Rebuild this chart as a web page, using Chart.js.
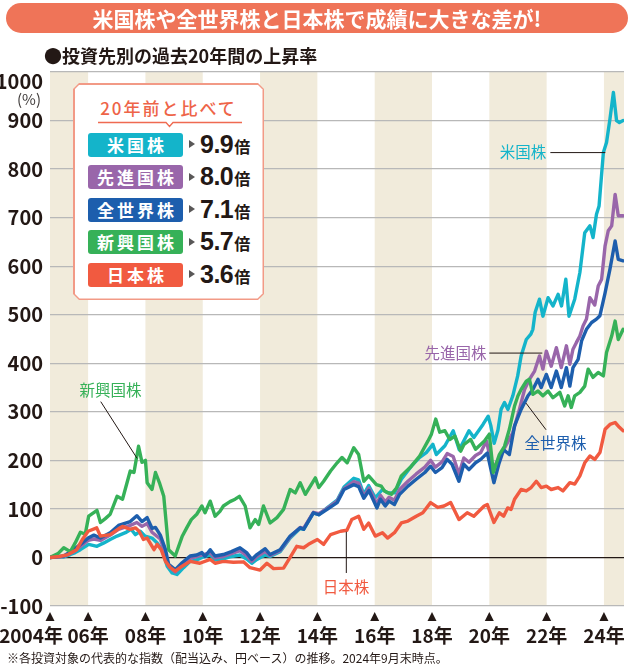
<!doctype html>
<html>
<head>
<meta charset="utf-8">
<title>投資先別の過去20年間の上昇率</title>
<script src="https://cdn.jsdelivr.net/npm/chart.js"></script>
<style>
  body { margin: 0; background: #fff; }
  #wrap { position: relative; width: 631px; height: 667px; overflow: hidden; font-family: "Noto Sans CJK JP", sans-serif; color: #231815; }
  #chart { position: absolute; left: 0; top: 0; }
  #title { position: absolute; left: 6px; top: 3px; width: 622px; height: 30px; border-radius: 15px; background: #ef7458; color: #fff; font-weight: bold; font-size: 21px; line-height: 30px; text-align: center; }
  #subtitle { position: absolute; left: 44px; top: 44px; font-size: 18px; font-weight: bold; line-height: 22px; white-space: nowrap; }
  #note { position: absolute; left: 7px; top: 650px; font-size: 12px; line-height: 16px; white-space: nowrap; }
  #legendBox { position: absolute; left: 73px; top: 83px; width: 191px; height: 217px; background: #f29a86;
    clip-path: polygon(6px 0, calc(100% - 6px) 0, 100% 6px, 100% calc(100% - 6px), calc(100% - 6px) 100%, 6px 100%, 0 calc(100% - 6px), 0 6px); }
  #legendBox .inner { position: absolute; left: 1.5px; top: 1.5px; right: 1.5px; bottom: 1.5px; background: #fff;
    clip-path: polygon(5px 0, calc(100% - 5px) 0, 100% 5px, 100% calc(100% - 5px), calc(100% - 5px) 100%, 5px 100%, 0 calc(100% - 5px), 0 5px); }
  #legendBox .head { position: absolute; left: 0; width: 100%; top: 13px; text-align: center; font-size: 17px; font-weight: 500; letter-spacing: 2px; line-height: 20px; color: #ee6448; }
  #legendBox svg { position: absolute; left: 23px; top: 36px; }
  .row { position: absolute; left: 13.5px; height: 24px; width: 170px; }
  .tag { position: absolute; left: 0; top: 0; width: 95px; height: 24px; border-radius: 3px; color: #fff; font-weight: bold; font-size: 17px; line-height: 24px; letter-spacing: 3px; text-align: center; text-indent: 3px; }
  .arr { position: absolute; left: 101px; top: 7.5px; width: 0; height: 0; border-left: 6px solid #595757; border-top: 4.5px solid transparent; border-bottom: 4.5px solid transparent; }
  .val { position: absolute; left: 112px; top: -4px; line-height: 30px; white-space: nowrap; font-family: "Liberation Sans", Arial, sans-serif; font-weight: bold; font-size: 25px; letter-spacing: -0.5px; }
  .val small { font-family: "Noto Sans CJK JP", sans-serif; font-size: 16px; font-weight: bold; margin-left: 1px; }
</style>
</head>
<body>
<div id="wrap">
  <canvas id="chart" width="631" height="667"></canvas>
  <div id="title">米国株や全世界株と日本株で成績に大きな差が!</div>
  <div id="subtitle">●投資先別の過去20年間の上昇率</div>
  <div id="legendBox">
    <div class="inner">
      <div class="head">20年前と比べて</div>
      <svg width="144" height="8"><polyline points="0,1.5 68,1.5 71.5,5.5 75,1.5 144,1.5" fill="none" stroke="#ef6a51" stroke-width="1.3"/></svg>
      <div id="rows"></div>
    </div>
  </div>
  <div id="note">※各投資対象の代表的な指数（配当込み、円ベース）の推移。2024年9月末時点。</div>
</div>

<script>
// 系列名・倍率・色
var seriesNames = ['米国株', '先進国株', '全世界株', '新興国株', '日本株'];
var multiples = ['9.9', '8.0', '7.1', '5.7', '3.6'];
var seriesColors = ['#14b4ca', '#9966aa', '#1d5ead', '#36b158', '#f15a40'];

// x軸の目盛り（年）
var xTicks = [2004.67, 2006, 2008, 2010, 2012, 2014, 2016, 2018, 2020, 2022, 2024];
var xTickLabels = ['2004年', '06年', '08年', '10年', '12年', '14年', '16年', '18年', '20年', '22年', '24年'];

// 上昇率(%)  [年, 値]
var usStock = [[2004.67,0],[2004.9,2],[2005.15,1],[2005.38,6],[2005.55,10],[2005.73,16],[2006.02,27],[2006.31,23],[2006.55,30],[2006.77,37],[2007.01,44],[2007.3,51],[2007.5,58],[2007.65,47],[2007.82,54],[2007.99,44],[2008.23,40],[2008.41,30],[2008.58,16],[2008.76,-18],[2008.93,-32],[2009.1,-35],[2009.33,-21],[2009.56,-8],[2009.79,-5],[2009.97,0],[2010.26,5],[2010.43,-5],[2010.72,-3],[2011.0,2],[2011.3,5],[2011.53,-3],[2011.71,-12],[2011.89,-4],[2012.18,5],[2012.35,2],[2012.7,12],[2013.05,40],[2013.4,60],[2013.52,58],[2013.86,92],[2014.05,88],[2014.34,102],[2014.69,118],[2014.93,145],[2015.27,163],[2015.44,160],[2015.62,130],[2015.79,148],[2016.02,123],[2016.27,140],[2016.45,133],[2016.69,133],[2016.93,161],[2017.28,188],[2017.57,206],[2017.8,216],[2018.03,233],[2018.15,212],[2018.45,230],[2018.74,261],[2018.95,222],[2019.29,261],[2019.46,247],[2019.78,274],[2019.96,291],[2020.05,272],[2020.17,235],[2020.3,262],[2020.41,305],[2020.53,319],[2020.65,305],[2020.82,333],[2020.99,374],[2021.11,415],[2021.29,449],[2021.45,460],[2021.52,470],[2021.6,505],[2021.75,532],[2021.87,497],[2022.05,535],[2022.22,518],[2022.4,542],[2022.52,518],[2022.67,573],[2022.78,497],[2022.98,532],[2023.16,587],[2023.33,669],[2023.51,683],[2023.62,659],[2023.74,707],[2023.83,724],[2023.98,834],[2024.09,855],[2024.21,903],[2024.33,958],[2024.44,900],[2024.54,896],[2024.67,900]];
var developed = [[2004.67,0],[2005.15,2],[2005.5,12],[2006.0,35],[2006.2,38],[2006.43,35],[2006.77,46],[2007.06,58],[2007.47,66],[2007.7,72],[2007.88,64],[2008.06,70],[2008.23,52],[2008.52,38],[2008.7,8],[2008.81,-18],[2009.04,-30],[2009.28,-16],[2009.56,-2],[2009.97,5],[2010.26,10],[2010.43,-1],[2010.72,2],[2011.3,14],[2011.53,4],[2011.71,-8],[2011.89,2],[2012.18,12],[2012.35,4],[2012.7,14],[2013.05,42],[2013.4,62],[2013.52,60],[2013.86,93],[2014.05,90],[2014.34,101],[2014.69,116],[2014.93,142],[2015.27,156],[2015.44,153],[2015.62,126],[2015.8,143],[2016.08,110],[2016.2,128],[2016.37,114],[2016.5,124],[2016.69,118],[2016.87,140],[2017.16,157],[2017.45,172],[2017.75,186],[2017.95,200],[2018.12,186],[2018.35,197],[2018.53,214],[2018.74,208],[2018.94,172],[2019.11,205],[2019.29,196],[2019.52,210],[2019.7,216],[2019.9,240],[2020.12,181],[2020.35,206],[2020.59,232],[2020.82,257],[2021.05,305],[2021.23,346],[2021.4,367],[2021.58,384],[2021.75,415],[2021.87,388],[2021.99,425],[2022.16,394],[2022.34,432],[2022.51,391],[2022.69,436],[2022.81,398],[2022.92,429],[2023.04,443],[2023.16,456],[2023.27,477],[2023.39,491],[2023.51,535],[2023.68,520],[2023.8,559],[2023.92,573],[2024.04,642],[2024.15,673],[2024.27,683],[2024.39,748],[2024.5,704],[2024.67,704]];
var world = [[2004.67,0],[2005.15,3],[2005.5,16],[2005.8,30],[2006.0,40],[2006.2,46],[2006.43,40],[2006.77,51],[2007.06,66],[2007.47,74],[2007.7,86],[2007.88,74],[2008.06,82],[2008.23,60],[2008.35,62],[2008.52,46],[2008.7,16],[2008.81,-14],[2009.04,-25],[2009.28,-11],[2009.56,3],[2009.79,5],[2009.97,10],[2010.08,2],[2010.26,16],[2010.43,3],[2010.72,6],[2011.0,12],[2011.3,20],[2011.53,10],[2011.71,-4],[2011.89,6],[2012.18,18],[2012.35,6],[2012.7,16],[2013.05,44],[2013.4,61],[2013.52,58],[2013.86,92],[2014.05,88],[2014.34,99],[2014.69,113],[2014.93,140],[2015.27,150],[2015.44,146],[2015.62,122],[2015.8,138],[2016.08,102],[2016.2,120],[2016.37,106],[2016.5,116],[2016.69,109],[2016.87,130],[2017.16,147],[2017.45,161],[2017.75,175],[2017.95,188],[2018.12,175],[2018.35,185],[2018.53,202],[2018.7,192],[2018.94,157],[2019.11,192],[2019.29,181],[2019.52,195],[2019.7,202],[2019.93,215],[2020.16,154],[2020.33,192],[2020.5,222],[2020.7,212],[2020.88,271],[2021.11,305],[2021.35,333],[2021.52,346],[2021.7,367],[2021.81,350],[2021.99,377],[2022.16,350],[2022.34,384],[2022.51,350],[2022.69,391],[2022.81,353],[2022.92,391],[2023.1,408],[2023.22,446],[2023.39,470],[2023.57,484],[2023.74,491],[2023.86,498],[2024.04,545],[2024.21,594],[2024.39,652],[2024.5,614],[2024.67,611]];
var emerging = [[2004.67,0],[2004.95,8],[2005.15,20],[2005.38,12],[2005.55,30],[2005.73,52],[2005.9,48],[2006.02,85],[2006.31,97],[2006.43,72],[2006.6,80],[2006.77,89],[2007.01,126],[2007.2,120],[2007.47,178],[2007.6,175],[2007.76,229],[2007.88,196],[2008.0,200],[2008.06,154],[2008.23,140],[2008.35,175],[2008.5,152],[2008.64,126],[2008.81,16],[2009.04,3],[2009.28,43],[2009.45,62],[2009.6,78],[2009.79,89],[2009.97,106],[2010.08,92],[2010.26,116],[2010.43,85],[2010.6,95],[2010.72,106],[2010.95,115],[2011.13,120],[2011.28,126],[2011.48,106],[2011.65,61],[2011.83,78],[2011.95,68],[2012.12,106],[2012.35,71],[2012.59,82],[2012.82,99],[2013.05,140],[2013.23,133],[2013.4,154],[2013.58,130],[2013.93,164],[2014.05,144],[2014.22,157],[2014.46,178],[2014.69,195],[2014.86,206],[2015.04,195],[2015.27,226],[2015.44,212],[2015.62,157],[2015.79,168],[2016.06,150],[2016.23,147],[2016.34,137],[2016.58,130],[2016.76,143],[2016.93,168],[2017.28,188],[2017.57,209],[2017.86,240],[2017.98,254],[2018.13,285],[2018.27,258],[2018.45,261],[2018.62,243],[2018.8,250],[2019.0,219],[2019.12,233],[2019.35,243],[2019.52,223],[2019.83,240],[2020.0,254],[2020.14,175],[2020.35,212],[2020.53,229],[2020.7,264],[2020.88,312],[2021.0,333],[2021.11,346],[2021.29,363],[2021.4,367],[2021.52,336],[2021.7,343],[2021.87,333],[2022.05,343],[2022.22,329],[2022.46,340],[2022.63,312],[2022.75,333],[2022.86,309],[2022.98,333],[2023.16,340],[2023.33,353],[2023.45,388],[2023.62,371],[2023.8,381],[2023.98,374],[2024.09,422],[2024.27,456],[2024.39,487],[2024.5,449],[2024.67,470]];
var japan = [[2004.67,0],[2005.0,2],[2005.3,6],[2005.6,16],[2005.8,37],[2006.0,54],[2006.3,61],[2006.43,44],[2006.77,47],[2007.06,59],[2007.2,64],[2007.47,58],[2007.65,61],[2007.78,54],[2007.93,37],[2008.06,40],[2008.3,16],[2008.41,27],[2008.55,16],[2008.7,-8],[2008.87,-21],[2009.04,-28],[2009.28,-18],[2009.56,-8],[2009.9,-12],[2010.26,-4],[2010.43,-12],[2010.72,-8],[2011.07,-10],[2011.42,-9],[2011.65,-21],[2012.0,-26],[2012.24,-12],[2012.47,-23],[2012.82,-22],[2013.05,0],[2013.28,23],[2013.52,20],[2013.69,27],[2014.0,37],[2014.22,27],[2014.46,47],[2014.81,54],[2015.03,56],[2015.2,78],[2015.44,85],[2015.62,58],[2015.79,71],[2016.02,44],[2016.27,51],[2016.45,40],[2016.69,51],[2016.93,71],[2017.16,75],[2017.45,85],[2017.68,92],[2017.95,113],[2018.2,103],[2018.42,106],[2018.65,113],[2018.94,78],[2019.23,92],[2019.46,85],[2019.82,106],[2019.93,109],[2020.16,72],[2020.35,92],[2020.5,85],[2020.64,102],[2020.76,99],[2020.88,120],[2021.11,140],[2021.29,137],[2021.46,144],[2021.64,157],[2021.81,144],[2021.99,147],[2022.16,140],[2022.4,144],[2022.57,137],[2022.81,154],[2022.98,151],[2023.16,168],[2023.33,195],[2023.51,209],[2023.68,202],[2023.86,216],[2024.04,264],[2024.21,274],[2024.39,278],[2024.54,268],[2024.67,261]];

var seriesData = [usStock, developed, world, emerging, japan];

// 凡例ボックスの行
var rows = document.getElementById('rows');
seriesNames.forEach(function (name, i) {
    var row = document.createElement('div');
    row.className = 'row';
    row.style.top = (48 + i * 32.5) + 'px';
    row.innerHTML = '<div class="tag" style="background:' + seriesColors[i] + '">' + name + '</div>' +
        '<div class="arr"></div>' +
        '<div class="val">' + multiples[i] + '<small>倍</small></div>';
    rows.appendChild(row);
});

var numFont = '"Liberation Sans Narrow", "Arial Narrow", "Noto Sans CJK JP", sans-serif';

// 帯・目盛り・系列名の注記
var decor = {
    id: 'decor',
    beforeDraw: function (chart) {
        var ctx = chart.ctx, a = chart.chartArea, x = chart.scales.x;
        ctx.save();
        ctx.fillStyle = '#f1ebdb';
        [2004, 2008, 2012, 2016, 2020, 2024].forEach(function (s) {
            var l = Math.max(a.left, x.getPixelForValue(s));
            var r = Math.min(a.right, x.getPixelForValue(s + 2));
            if (r > l) ctx.fillRect(l, a.top, r - l, a.bottom - a.top);
        });
        ctx.restore();
    },
    afterDatasetsDraw: function (chart, args, opts) {
        var ctx = chart.ctx, x = chart.scales.x, y = chart.scales.y;
        ctx.save();
        opts.notes.forEach(function (n) {
            ctx.strokeStyle = '#231815';
            ctx.lineWidth = 1;
            ctx.beginPath();
            ctx.moveTo(x.getPixelForValue(n.line[0][0]), y.getPixelForValue(n.line[0][1]));
            ctx.lineTo(x.getPixelForValue(n.line[1][0]), y.getPixelForValue(n.line[1][1]));
            ctx.stroke();
            ctx.font = '15.5px "Noto Sans CJK JP", sans-serif';
            ctx.fillStyle = n.color;
            ctx.textAlign = n.align;
            ctx.textBaseline = 'middle';
            ctx.fillText(n.text, x.getPixelForValue(n.at[0]), y.getPixelForValue(n.at[1]));
        });
        ctx.restore();
    },
    afterDraw: function (chart) {
        var ctx = chart.ctx, a = chart.chartArea, x = chart.scales.x;
        ctx.save();
        ctx.fillStyle = '#231815';
        ctx.font = 'bold 19px ' + numFont;
        ctx.textBaseline = 'middle';
        xTicks.forEach(function (t, i) {
            var px = x.getPixelForValue(t);
            ctx.beginPath();
            ctx.moveTo(px, a.bottom + 6);
            ctx.lineTo(px + 4.5, a.bottom + 15);
            ctx.lineTo(px - 4.5, a.bottom + 15);
            ctx.closePath();
            ctx.fill();
            if (i === 0) {
                ctx.textAlign = 'right';
                ctx.fillText(xTickLabels[i], px + 13, a.bottom + 30);
            } else {
                ctx.textAlign = 'center';
                ctx.fillText(xTickLabels[i], px, a.bottom + 30);
            }
        });
        ctx.textAlign = 'right';
        ctx.font = 'bold 20px ' + numFont;
        ctx.fillText('1000', a.left - 7, a.top + 9);
        ctx.textAlign = 'center';
        ctx.font = '15px "Noto Sans CJK JP", sans-serif';
        ctx.fillStyle = '#3e3a39';
        ctx.fillText('(%)', 29, a.top + 27);
        ctx.restore();
    }
};

var chart = new Chart(document.getElementById('chart').getContext('2d'), {
    type: 'line',
    data: {
        datasets: seriesNames.map(function (name, i) {
            return {
                label: name,
                data: seriesData[i].map(function (p) { return { x: p[0], y: p[1] }; }),
                borderColor: seriesColors[i],
                borderWidth: 3.4,
                borderJoinStyle: 'round',
                borderCapStyle: 'round',
                pointRadius: 0,
                tension: 0,
                fill: false,
                order: seriesNames.length - 1 - i
            };
        })
    },
    options: {
        responsive: false,
        animation: false,
        events: [],
        layout: { padding: { top: 72, right: 7, bottom: 61, left: 0 } },
        plugins: {
            legend: { display: false },
            tooltip: { enabled: false },
            decor: {
                notes: [
                    { text: '米国株', color: seriesColors[0], at: [2021.99, 834], align: 'right', line: [[2022.13, 834], [2024.05, 834]] },
                    { text: '先進国株', color: seriesColors[1], at: [2019.9, 421], align: 'right', line: [[2020.0, 421], [2021.85, 421]] },
                    { text: '全世界株', color: seriesColors[2], at: [2022.31, 236], align: 'center', line: [[2021.98, 263], [2021.28, 318]] },
                    { text: '新興国株', color: seriesColors[3], at: [2006.78, 345], align: 'center', line: [[2006.44, 321], [2007.71, 204]] },
                    { text: '日本株', color: seriesColors[4], at: [2015.0, -61], align: 'center', line: [[2015.01, 53], [2015.01, -32]] }
                ]
            }
        },
        scales: {
            x: { type: 'linear', min: 2004.67, max: 2024.70, display: false },
            y: {
                min: -100,
                max: 1000,
                afterFit: function (s) { s.width = 50; },
                border: { display: false },
                grid: {
                    drawTicks: false,
                    color: function (c) { return c.tick.value === 0 ? '#231815' : '#b8b8b8'; },
                    lineWidth: 1.2
                },
                ticks: {
                    stepSize: 100,
                    autoSkip: false,
                    padding: 7,
                    color: '#231815',
                    font: { family: numFont, weight: 'bold', size: 20 },
                    callback: function (v) { return v === 1000 ? '' : v; }
                }
            }
        }
    },
    plugins: [decor]
});
</script>
</body>
</html>
